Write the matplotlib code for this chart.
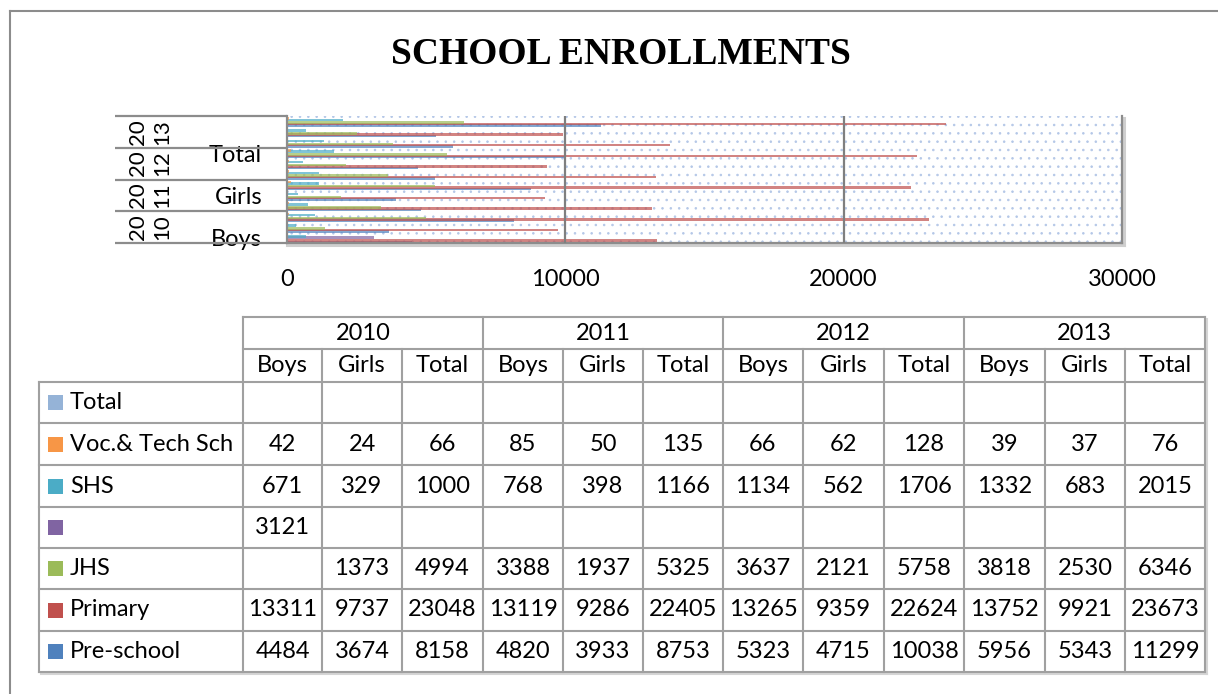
import matplotlib
matplotlib.use("Agg")
import matplotlib.pyplot as plt
from matplotlib.patches import Rectangle

plt.rcParams['font.family'] = ['Lato', 'DejaVu Sans']
plt.rcParams['hatch.color'] = '#B4C7E7'
plt.rcParams['hatch.linewidth'] = 0.6

years = ['2010', '2011', '2012', '2013']
groups = ['Boys', 'Girls', 'Total']

preschool = [4484, 3674, 8158, 4820, 3933, 8753, 5323, 4715, 10038, 5956, 5343, 11299]
primary = [13311, 9737, 23048, 13119, 9286, 22405, 13265, 9359, 22624, 13752, 9921, 23673]
jhs = [None, 1373, 4994, 3388, 1937, 5325, 3637, 2121, 5758, 3818, 2530, 6346]
unnamed = [3121, None, None, None, None, None, None, None, None, None, None, None]
shs = [671, 329, 1000, 768, 398, 1166, 1134, 562, 1706, 1332, 683, 2015]
voc = [42, 24, 66, 85, 50, 135, 66, 62, 128, 39, 37, 76]
total = [None] * 12

series_names = ['Pre-school', 'Primary', 'JHS', '', 'SHS', 'Voc.& Tech Sch', 'Total']
series_vals = [preschool, primary, jhs, unnamed, shs, voc, total]
series_colors = ['#4F81BD', '#C0504D', '#9BBB59', '#8064A2', '#4BACC6', '#F79646', '#95B3D7']
xticks = [0, 10000, 20000, 30000]

W, H = 1218, 694
fig = plt.figure(figsize=(W / 100, H / 100), dpi=100)

# overlay in pixel coords for frame and data table
ov = fig.add_axes([0, 0, 1, 1])
ov.set_xlim(0, W)
ov.set_ylim(H, 0)
ov.axis('off')

frame_c = '#8C8C8C'
ov.plot([10, 10], [11, H], color=frame_c, lw=1.5)
ov.plot([10, W], [11, 11], color=frame_c, lw=1.5)

fig.text(621 / W, 1 - 55 / H, 'SCHOOL ENROLLMENTS', family='Liberation Serif',
         weight='bold', fontsize=27, ha='center', va='center')

# ---- bar chart ----
L, R, T, B = 287, 1122, 116, 243
ax = fig.add_axes([L / W, 1 - B / H, (R - L) / W, (B - T) / H])
ax.set_xlim(0, 30000)
ax.set_ylim(-0.5, 11.5)
ax.add_patch(Rectangle((0, 0), 1, 1, transform=ax.transAxes, facecolor='white',
                       edgecolor='#B4C7E7', hatch='..', lw=0, zorder=0))

n = len(series_vals)
step = 0.92 / n
for k, (vals, col) in enumerate(zip(series_vals, series_colors)):
    ys, ws = [], []
    for i, v in enumerate(vals):
        if v is not None:
            ys.append(i - 0.46 + (k + 0.5) * step)
            ws.append(v)
    if ys:
        ax.barh(ys, ws, height=step * 1.8, color=col, alpha=0.7, lw=0, zorder=2)

for g in [10000, 20000]:
    ax.axvline(g, color='#7F7F7F', lw=1.6, zorder=3)

ax.spines['top'].set_visible(False)
for s in ['left', 'bottom', 'right']:
    ax.spines[s].set_color('#8C8C8C')
    ax.spines[s].set_linewidth(1.6)
# shadow on right/bottom
ov.plot([R + 2, R + 2], [T + 2, B + 2], color='#CFCFCF', lw=2.2, zorder=0)
ov.plot([L, R + 2], [B + 2, B + 2], color='#CFCFCF', lw=2.2, zorder=0)

ax.set_xticks(xticks)
ax.set_xticklabels([str(t) for t in xticks], fontsize=17)
ax.tick_params(axis='x', length=0, pad=19)

ax.set_yticks([0, 4, 8])
ax.set_yticklabels([groups[i % 3] for i in [0, 4, 8]], fontsize=17)
ax.tick_params(axis='y', length=0, pad=18)

ytr = ax.get_yaxis_transform()
x0 = (115 - L) / (R - L)
ax.hlines([-0.5, 2.5, 5.5, 8.5, 11.5], x0, 0, transform=ytr, color='#8C8C8C',
          lw=1.6, clip_on=False)
for j, yr in enumerate(years):
    ax.text((150 - L) / (R - L), 3 * j + 1, yr[:2] + '\n' + yr[2:], transform=ytr,
            rotation=90, ha='center', va='center', fontsize=16, linespacing=1.3)

# ---- data table ----
col_edges = [243, 322, 402, 483, 563, 643, 723, 803, 884, 964, 1045, 1125, 1205]
row_edges = [317, 349, 382, 423, 465, 507, 548, 589, 631, 672]
lab_left = 39
grid_c = '#A0A0A0'
tfs = 17

ov.plot([col_edges[0], col_edges[-1]], [row_edges[0]] * 2, color=grid_c, lw=1.5)
ov.plot([col_edges[0], col_edges[-1]], [row_edges[1]] * 2, color=grid_c, lw=1.5)
for r in row_edges[2:]:
    ov.plot([lab_left, col_edges[-1]], [r, r], color=grid_c, lw=1.5)
ov.plot([lab_left, lab_left], [row_edges[2], row_edges[-1]], color=grid_c, lw=1.5)
for c_i, c in enumerate(col_edges):
    top = row_edges[0] if c_i % 3 == 0 else row_edges[1]
    ov.plot([c, c], [top, row_edges[-1]], color=grid_c, lw=1.5)
ov.plot([col_edges[-1] + 2] * 2, [row_edges[0] + 2, row_edges[-1] + 2], color='#D5D5D5', lw=1.5, zorder=0)
ov.plot([lab_left + 2, col_edges[-1] + 2], [row_edges[-1] + 2] * 2, color='#D5D5D5', lw=1.5, zorder=0)

for j, yr in enumerate(years):
    xc = (col_edges[3 * j] + col_edges[3 * j + 3]) / 2
    ov.text(xc, (row_edges[0] + row_edges[1]) / 2, yr, ha='center', va='center', fontsize=tfs)
for c in range(12):
    xc = (col_edges[c] + col_edges[c + 1]) / 2
    ov.text(xc, (row_edges[1] + row_edges[2]) / 2, groups[c % 3], ha='center', va='center', fontsize=tfs)

for r, k in enumerate(reversed(range(n))):
    yc = (row_edges[2 + r] + row_edges[3 + r]) / 2
    ov.add_patch(Rectangle((48, yc - 7.5), 15, 15, facecolor=series_colors[k], lw=0))
    ov.text(70, yc, series_names[k], ha='left', va='center', fontsize=tfs)
    for c, v in enumerate(series_vals[k]):
        if v is not None:
            xc = (col_edges[c] + col_edges[c + 1]) / 2
            ov.text(xc, yc, str(v), ha='center', va='center', fontsize=tfs)

fig.savefig('out.png', dpi=100)
